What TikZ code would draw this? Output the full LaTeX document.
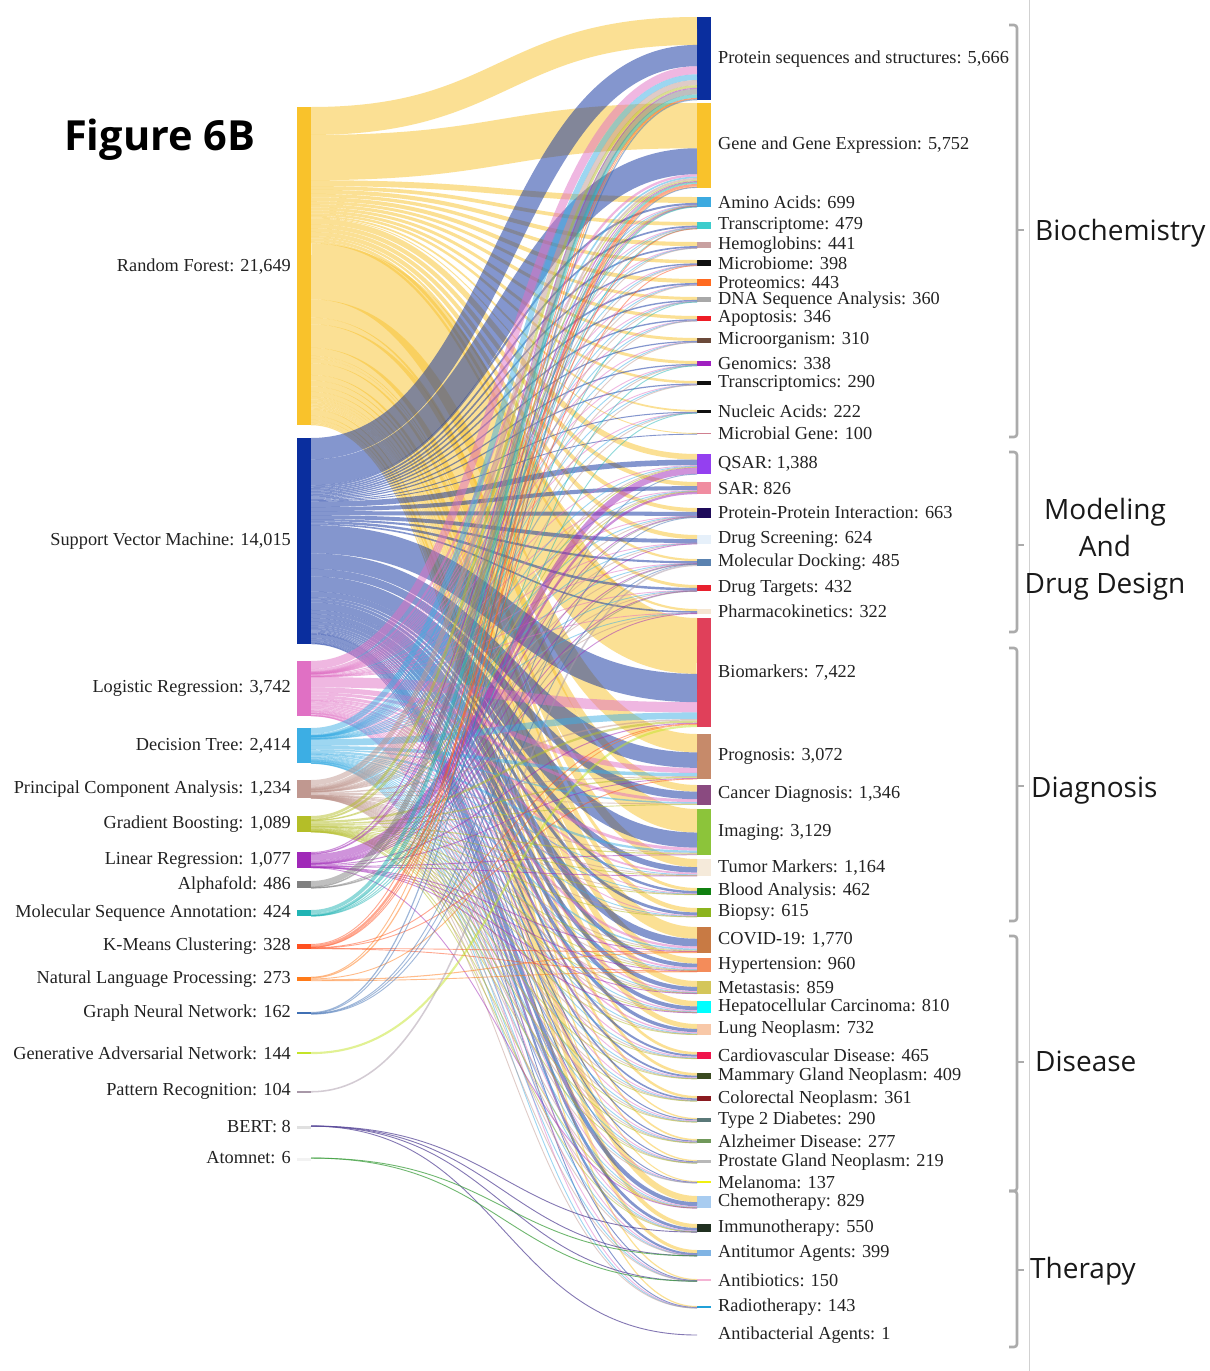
\documentclass[tikz,border=0pt]{standalone}
\usepackage{fontspec}
\setmainfont{Liberation Serif}
\newfontfamily\catfont{Open Sans}
\definecolor{cRF}{HTML}{F9C22B}
\definecolor{cSVM}{HTML}{0A2E9E}
\definecolor{cLR}{HTML}{E070C4}
\definecolor{cDTr}{HTML}{3CAEE4}
\definecolor{cPCA}{HTML}{C09890}
\definecolor{cGB}{HTML}{B4BE28}
\definecolor{cLinR}{HTML}{A028B8}
\definecolor{cAF}{HTML}{808080}
\definecolor{cMSA}{HTML}{20B4B4}
\definecolor{cKM}{HTML}{FF5020}
\definecolor{cNLP}{HTML}{FF7A18}
\definecolor{cGNN}{HTML}{4070B4}
\definecolor{cGAN}{HTML}{C4E428}
\definecolor{cPRe}{HTML}{A898A8}
\definecolor{cBERT}{HTML}{E0E0E0}
\definecolor{cBERTl}{HTML}{5A4A9A}
\definecolor{cATM}{HTML}{F2F2F2}
\definecolor{cATMl}{HTML}{40A040}
\definecolor{tPS}{HTML}{0A2E9E}
\definecolor{tGE}{HTML}{F9C22B}
\definecolor{tAA}{HTML}{3CAAE0}
\definecolor{tTC}{HTML}{3CCCCC}
\definecolor{tHB}{HTML}{C8A0A0}
\definecolor{tMB}{HTML}{101010}
\definecolor{tPT}{HTML}{FF6A20}
\definecolor{tDNA}{HTML}{A8A8A8}
\definecolor{tAP}{HTML}{EE1C25}
\definecolor{tMO}{HTML}{6B4A3A}
\definecolor{tGN}{HTML}{A020C0}
\definecolor{tTS}{HTML}{101010}
\definecolor{tNA}{HTML}{101010}
\definecolor{tMG}{HTML}{D08090}
\definecolor{tQS}{HTML}{9440F0}
\definecolor{tSA}{HTML}{F08CA0}
\definecolor{tPP}{HTML}{1E0A5A}
\definecolor{tDS}{HTML}{E6F0FA}
\definecolor{tMD}{HTML}{5A82B0}
\definecolor{tDT}{HTML}{E8202E}
\definecolor{tPK}{HTML}{F5E6D2}
\definecolor{tBM}{HTML}{E0405A}
\definecolor{tPG}{HTML}{C68A6A}
\definecolor{tCD}{HTML}{8A4A80}
\definecolor{tIM}{HTML}{8CC43A}
\definecolor{tTM}{HTML}{F5EADA}
\definecolor{tBA}{HTML}{108010}
\definecolor{tBI}{HTML}{8CB41E}
\definecolor{tCV}{HTML}{C87A44}
\definecolor{tHY}{HTML}{F48C5A}
\definecolor{tME}{HTML}{D4C65A}
\definecolor{tHC}{HTML}{00FFFF}
\definecolor{tLU}{HTML}{F8C8A8}
\definecolor{tCA}{HTML}{F0144C}
\definecolor{tMA}{HTML}{3A4A20}
\definecolor{tCO}{HTML}{8A1A20}
\definecolor{tT2}{HTML}{5A7878}
\definecolor{tAZ}{HTML}{70985A}
\definecolor{tPGN}{HTML}{B8B8B8}
\definecolor{tMEL}{HTML}{F0F010}
\definecolor{tCH}{HTML}{A8CCF0}
\definecolor{tIT}{HTML}{203020}
\definecolor{tAT}{HTML}{80B4E4}
\definecolor{tAB}{HTML}{F4B4D4}
\definecolor{tRT}{HTML}{20A0D8}
\definecolor{tABA}{HTML}{FFFFFF}
\definecolor{labtext}{HTML}{222222}
\definecolor{brkgray}{HTML}{ABABAB}
\def\kk{0.0147}
\newcommand\srcnode[6]{%
  \edef\hh{\fpeval{round(#3*\kk,4)}}%
  \edef\hd{\fpeval{max(\hh,#6)}}%
  \edef\cy{\fpeval{round(#2+\hh/2,3)}}%
  \node[bar, fill=#4, minimum height=\hd pt, anchor=north west] (s#1) at (297,#2) {};
  \node[lab, anchor=east] (s#1-lab) at (291,\cy) {#5};
  \expandafter\xdef\csname so@#1\endcsname{#2}%
}
\newcommand\tgtnode[4]{%
  \edef\hh{\fpeval{round(#3*\kk,4)}}%
  \edef\cy{\fpeval{round(#2+\hh/2,3)}}%
  \node[bar, fill=t#1, minimum height=\hh pt, anchor=north west] (t#1) at (697,#2) {};
  \node[lab, anchor=west] (t#1-lab) at (718,\cy) {#4};
  \expandafter\xdef\csname to@#1\endcsname{#2}%
}
\newcommand\lk[4]{%
  \edef\lw{\fpeval{round(#3*\kk,4)}}%
  \edef\ya{\fpeval{round(\csname so@#1\endcsname+\lw/2,3)}}%
  \edef\yb{\fpeval{round(\csname to@#2\endcsname+\lw/2,3)}}%
  \edef\dw{\fpeval{max(\lw,0.9)}}%
  \coordinate (#1-#2-a) at (311,\ya);
  \coordinate (#1-#2-b) at (697,\yb);
  \draw[lnk,#4,line width=\dw pt] (#1-#2-a) .. controls +(193,0) and +(-193,0) .. (#1-#2-b);
  \edef\tmp{\fpeval{\csname so@#1\endcsname+\lw}}\expandafter\xdef\csname so@#1\endcsname{\tmp}%
  \edef\tmp{\fpeval{\csname to@#2\endcsname+\lw}}\expandafter\xdef\csname to@#2\endcsname{\tmp}%
}
\newcommand\lks[3]{\foreach \tg/\vv in {#3} {\lk{#1}{\tg}{\vv}{#2}}}
\begin{document}
\begin{tikzpicture}[x=1pt,y=-1pt,
  bar/.style={draw=none, inner sep=0pt, outer sep=0pt, minimum width=14pt},
  lab/.style={inner sep=0pt, text=labtext, font=\fontsize{18.3}{22}\selectfont},
  lnk/.style={draw opacity=0.5, line cap=butt},
  brk/.style={draw=brkgray, line width=2.6pt, rounded corners=3pt},
  cat/.style={inner sep=0pt, text=black!90, font=\catfont\fontsize{28}{37}\selectfont}]
\fill[white] (0,0) rectangle (1210,1371);
\useasboundingbox (0,0) rectangle (1210,1371);
% source nodes
\srcnode{RF}{107}{21649}{cRF}{Random Forest: 21,649}{0}
\srcnode{SVM}{438}{14015}{cSVM}{Support Vector Machine: 14,015}{0}
\srcnode{LR}{661}{3742}{cLR}{Logistic Regression: 3,742}{0}
\srcnode{DTr}{728}{2414}{cDTr}{Decision Tree: 2,414}{0}
\srcnode{PCA}{780}{1234}{cPCA}{Principal Component Analysis: 1,234}{0}
\srcnode{GB}{816}{1089}{cGB}{Gradient Boosting: 1,089}{0}
\srcnode{LinR}{852}{1077}{cLinR}{Linear Regression: 1,077}{0}
\srcnode{AF}{881}{486}{cAF}{Alphafold: 486}{0}
\srcnode{MSA}{910}{424}{cMSA}{Molecular Sequence Annotation: 424}{0}
\srcnode{KM}{944}{328}{cKM}{K-Means Clustering: 328}{0}
\srcnode{NLP}{977}{273}{cNLP}{Natural Language Processing: 273}{0}
\srcnode{GNN}{1012}{162}{cGNN}{Graph Neural Network: 162}{0}
\srcnode{GAN}{1052}{144}{cGAN}{Generative Adversarial Network: 144}{0}
\srcnode{PRe}{1091}{104}{cPRe}{Pattern Recognition: 104}{0}
\srcnode{BERT}{1126}{8}{cBERT}{BERT: 8}{3}
\srcnode{ATM}{1158}{6}{cATM}{Atomnet: 6}{3}
% target nodes
\tgtnode{PS}{17}{5666}{Protein sequences and structures: 5,666}
\tgtnode{GE}{103}{5752}{Gene and Gene Expression: 5,752}
\tgtnode{AA}{197}{699}{Amino Acids: 699}
\tgtnode{TC}{222}{479}{Transcriptome: 479}
\tgtnode{HB}{242}{441}{Hemoglobins: 441}
\tgtnode{MB}{260}{398}{Microbiome: 398}
\tgtnode{PT}{279}{443}{Proteomics: 443}
\tgtnode{DNA}{297}{360}{DNA Sequence Analysis: 360}
\tgtnode{AP}{316}{346}{Apoptosis: 346}
\tgtnode{MO}{338}{310}{Microorganism: 310}
\tgtnode{GN}{361}{338}{Genomics: 338}
\tgtnode{TS}{381}{290}{Transcriptomics: 290}
\tgtnode{NA}{410}{222}{Nucleic Acids: 222}
\tgtnode{MG}{433}{100}{Microbial Gene: 100}
\tgtnode{QS}{454}{1388}{QSAR: 1,388}
\tgtnode{SA}{482}{826}{SAR: 826}
\tgtnode{PP}{508}{663}{Protein-Protein Interaction: 663}
\tgtnode{DS}{535}{624}{Drug Screening: 624}
\tgtnode{MD}{559}{485}{Molecular Docking: 485}
\tgtnode{DT}{585}{432}{Drug Targets: 432}
\tgtnode{PK}{609}{322}{Pharmacokinetics: 322}
\tgtnode{BM}{618}{7422}{Biomarkers: 7,422}
\tgtnode{PG}{734}{3072}{Prognosis: 3,072}
\tgtnode{CD}{785}{1346}{Cancer Diagnosis: 1,346}
\tgtnode{IM}{809}{3129}{Imaging: 3,129}
\tgtnode{TM}{859}{1164}{Tumor Markers: 1,164}
\tgtnode{BA}{888}{462}{Blood Analysis: 462}
\tgtnode{BI}{908}{615}{Biopsy: 615}
\tgtnode{CV}{927}{1770}{COVID-19: 1,770}
\tgtnode{HY}{958}{960}{Hypertension: 960}
\tgtnode{ME}{981}{859}{Metastasis: 859}
\tgtnode{HC}{1001}{810}{Hepatocellular Carcinoma: 810}
\tgtnode{LU}{1024}{732}{Lung Neoplasm: 732}
\tgtnode{CA}{1052}{465}{Cardiovascular Disease: 465}
\tgtnode{MA}{1073}{409}{Mammary Gland Neoplasm: 409}
\tgtnode{CO}{1096}{361}{Colorectal Neoplasm: 361}
\tgtnode{T2}{1118}{290}{Type 2 Diabetes: 290}
\tgtnode{AZ}{1139}{277}{Alzheimer Disease: 277}
\tgtnode{PGN}{1160}{219}{Prostate Gland Neoplasm: 219}
\tgtnode{MEL}{1181}{137}{Melanoma: 137}
\tgtnode{CH}{1196}{829}{Chemotherapy: 829}
\tgtnode{IT}{1224}{550}{Immunotherapy: 550}
\tgtnode{AT}{1250}{399}{Antitumor Agents: 399}
\tgtnode{AB}{1279}{150}{Antibiotics: 150}
\tgtnode{RT}{1306}{143}{Radiotherapy: 143}
\tgtnode{ABA}{1335}{1}{Antibacterial Agents: 1}
% links
\lks{RF}{draw=cRF}{PS/1900,GE/3079,AA/400,TC/250,HB/280,MB/230,PT/270,DNA/200,AP/220,MO/200,GN/200,TS/170,NA/120,MG/60,QS/380,SA/280,PP/260,DS/280,MD/150,DT/200,PK/150,BM/3800,PG/1250,CD/450,IM/1600,TM/550,BA/200,BI/300,CV/800,HY/380,ME/400,HC/370,LU/330,CA/180,MA/180,CO/160,T2/90,AZ/110,PGN/90,MEL/70,CH/420,IT/270,AT/210,AB/80,RT/80}
\lks{SVM}{draw=cSVM}{PS/1450,GE/1768,AA/134,TC/114,HB/111,MB/93,PT/113,DNA/95,AP/91,MO/80,GN/83,TS/80,NA/69,MG/40,QS/378,SA/276,PP/273,DS/264,MD/143,DT/165,PK/107,BM/1924,PG/1052,CD/516,IM/1029,TM/374,BA/162,BI/195,CV/520,HY/264,ME/279,HC/258,LU/222,CA/135,MA/119,CO/106,T2/70,AZ/77,PGN/69,MEL/38,CH/274,IT/184,AT/143,AB/42,RT/36}
\lks{LR}{draw=cLR}{PS/550,GE/155,AA/30,TC/30,HB/20,MB/20,PT/20,DNA/15,AP/15,MO/10,GN/15,TS/12,NA/5,QS/60,SA/50,PP/20,DS/20,MD/10,DT/15,PK/20,BM/700,PG/350,CD/200,IM/200,TM/120,BA/40,BI/50,CV/150,HY/120,ME/90,HC/80,LU/90,CA/70,MA/50,CO/40,T2/60,AZ/40,PGN/30,MEL/15,CH/60,IT/50,AT/20,AB/10,RT/15}
\lks{DTr}{draw=cDTr}{PS/390,GE/110,AA/15,TC/15,HB/10,MB/15,PT/10,DNA/10,AP/10,MO/10,GN/10,TS/8,NA/4,QS/40,SA/30,PP/20,DS/20,MD/10,DT/12,PK/15,BM/450,PG/230,CD/100,IM/150,TM/60,BA/30,BI/40,CV/100,HY/60,ME/40,HC/50,LU/50,CA/40,MA/30,CO/25,T2/40,AZ/25,PGN/15,MEL/10,CH/40,IT/30,AT/15,AB/10,RT/10}
\lks{PCA}{draw=cPCA}{PS/350,GE/130,AA/30,TC/40,HB/20,MB/20,PT/30,DNA/20,AP/10,MO/10,GN/20,TS/20,NA/10,QS/40,SA/20,PP/10,DS/10,MD/10,DT/10,PK/10,BM/100,PG/30,CD/40,IM/40,TM/20,BA/10,BI/10,CV/30,HY/10,ME/10,HC/10,LU/10,CA/10,MA/10,CO/10,T2/10,AZ/10,PGN/5,MEL/4,CH/15,IT/10,AT/5,AB/3,RT/2}
\lks{GB}{draw=cGB}{PS/180,GE/80,AA/20,QS/30,SA/20,BM/150,PG/90,CD/40,IM/80,TM/30,BA/20,BI/20,CV/60,HY/50,ME/30,HC/30,LU/30,CA/30,MA/20,CO/20,T2/20,AZ/15,PGN/10,CH/10,IT/4}
\lks{LinR}{draw=cLinR}{PS/70,GE/50,AA/20,QS/440,SA/150,PP/30,DS/30,MD/20,DT/20,PK/20,BM/70,PG/50,IM/30,TM/10,CV/20,HY/15,ME/10,HC/12,CH/10}
\lks{AF}{draw=cAF}{PS/380,GE/30,AA/30,PP/20,MD/16,DT/10}
\lks{MSA}{draw=cMSA}{PS/240,GE/110,AA/20,TC/10,DNA/20,GN/10,NA/14}
\lks{KM}{draw=cKM}{PS/56,GE/150,TC/20,MB/20,BM/24,PG/20,CV/20,HY/18}
\lks{NLP}{draw=cNLP}{PS/20,GE/80,BM/60,CV/70,HY/43}
\lks{GNN}{draw=cGNN}{PS/80,GE/10,QS/20,PP/30,MD/22}
\lks{GAN}{draw=cGAN}{BM/144}
\lks{PRe}{draw=cPRe}{MD/104}
\lks{BERT}{draw=cBERTl,draw opacity=0.75}{IT/2,AT/3,AB/2,ABA/1}
\lks{ATM}{draw=cATMl,draw opacity=0.75}{AT/3,AB/3}
% title
\node[inner sep=0pt, anchor=base west, font=\catfont\bfseries\fontsize{41.5}{46}\selectfont] (title) at (64,150) {Figure 6B};
% separator line
\coordinate (sepT) at (1029,0);
\coordinate (sepB) at (1029,1371);
\draw[draw=black!18, line width=0.8pt] (sepT) -- (sepB);
% brackets
\draw[brk] (1009,25) -- (1017,25) -- (1017,437) -- (1009,437);
\draw[brk] (1009,452) -- (1017,452) -- (1017,632) -- (1009,632);
\draw[brk] (1009,648) -- (1017,648) -- (1017,921) -- (1009,921);
\draw[brk] (1009,936) -- (1017,936) -- (1017,1191) -- (1009,1191);
\draw[brk] (1009,1191) -- (1017,1191) -- (1017,1347) -- (1009,1347);
\draw[draw=brkgray, line width=2pt] (1017,230) -- (1024,230);
\draw[draw=brkgray, line width=2pt] (1017,545) -- (1024,545);
\draw[draw=brkgray, line width=2pt] (1017,786) -- (1024,786);
\draw[draw=brkgray, line width=2pt] (1017,1062) -- (1024,1062);
\draw[draw=brkgray, line width=2pt] (1017,1270) -- (1024,1270);
% category labels
\node[cat, anchor=west] (cBio) at (1035,233) {Biochemistry};
\node[cat, align=center] (cMod) at (1105,549) {Modeling\\And\\Drug Design};
\node[cat, anchor=west] (cDia) at (1031,791) {Diagnosis};
\node[cat, anchor=west] (cDis) at (1035,1061) {Disease};
\node[cat, anchor=west] (cThe) at (1030,1271) {Therapy};
\end{tikzpicture}
\end{document}
